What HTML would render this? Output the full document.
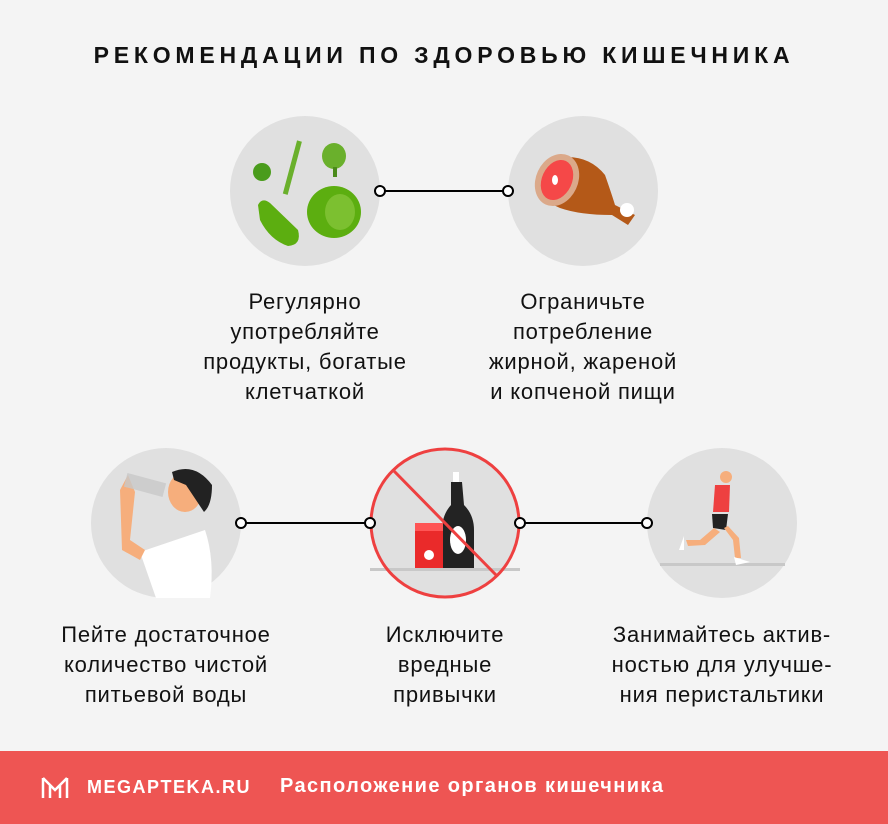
<!DOCTYPE html>
<html><head><meta charset="utf-8"><style>
body{margin:0;width:888px;height:824px;background:#f4f4f4;font-family:"Liberation Sans",sans-serif;position:relative;overflow:hidden}
.t{position:absolute;text-align:center;font-size:22px;letter-spacing:0.8px;line-height:30px;color:#111;width:300px}
.title{position:absolute;top:42px;left:0;width:888px;text-align:center;font-weight:bold;font-size:23px;letter-spacing:4.8px;color:#111}
.foot{position:absolute;left:0;top:751px;width:888px;height:73px;background:#ee5553;color:#fff}
</style></head><body>
<div class="title">РЕКОМЕНДАЦИИ ПО ЗДОРОВЬЮ КИШЕЧНИКА</div>
<svg width="888" height="750" style="position:absolute;left:0;top:0">
<g fill="#e0e0e0"><circle cx="305" cy="191" r="75"/><circle cx="583" cy="191" r="75"/><circle cx="166" cy="523" r="75"/><circle cx="445" cy="523" r="75"/><circle cx="722" cy="523" r="75"/></g>
<g><rect x="290" y="140" width="5" height="55" fill="#6ab02c" transform="rotate(15 292 167)"/>
<circle cx="262" cy="172" r="9" fill="#4a9c1c"/>
<ellipse cx="334" cy="156" rx="12" ry="13" fill="#6ab02c"/><rect x="333" y="167" width="4" height="10" fill="#4a8a1a"/>
<path d="M258 205 Q262 197 270 203 L298 230 Q302 245 288 246 Q270 240 260 220 Z" fill="#5cae10"/>
<ellipse cx="334" cy="212" rx="27" ry="26" fill="#5cae10"/><ellipse cx="340" cy="212" rx="15" ry="18" fill="#7cc030"/></g>
<path d="M548 160 Q585 150 605 175 Q612 195 615 205 L635 215 L628 225 L612 215 Q580 215 560 208 Q540 200 545 180 Z" fill="#b45918"/>
<ellipse cx="557" cy="180" rx="21" ry="27" fill="#dba98a" transform="rotate(25 557 180)"/>
<ellipse cx="557" cy="180" rx="15" ry="21" fill="#f54848" transform="rotate(25 557 180)"/>
<ellipse cx="555" cy="180" rx="3" ry="5" fill="#fff"/>
<circle cx="627" cy="210" r="7" fill="#fff"/>
<path d="M140 552 L205 530 Q215 560 210 598 L156 598 Z" fill="#fff"/>
<path d="M120 490 L128 475 L135 492 L130 540 L145 550 L140 560 L122 550 Z" fill="#f6ae7c"/>
<ellipse cx="185" cy="492" rx="17" ry="20" fill="#f6ae7c"/>
<path d="M172 472 Q195 462 212 485 Q212 505 204 512 L196 500 L186 485 L174 480 Z" fill="#222"/>
<rect x="125" y="478" width="40" height="14" fill="#c8c8c8" opacity=".8" transform="rotate(15 145 485)"/>
<rect x="453" y="472" width="6" height="10" fill="#fff"/>
<path d="M451 482 L462 482 L464 505 Q474 515 474 530 L474 570 L442 570 L442 530 Q442 515 451 505 Z" fill="#232323"/>
<ellipse cx="458" cy="540" rx="8" ry="14" fill="#fff"/>
<rect x="415" y="523" width="28" height="46" fill="#ea2a2a"/><rect x="415" y="523" width="28" height="8" fill="#f55"/>
<circle cx="429" cy="555" r="5" fill="#fff"/>
<rect x="370" y="568" width="150" height="3" fill="#c8c8c8"/>
<circle cx="445" cy="523" r="74" fill="none" stroke="#ee4040" stroke-width="3"/>
<line x1="393" y1="470" x2="497" y2="576" stroke="#ee4040" stroke-width="3"/>
<rect x="660" y="563" width="125" height="3" fill="#c8c8c8"/>
<circle cx="726" cy="477" r="6" fill="#f6ae7c"/>
<path d="M715 485 L730 485 L729 512 L713 512 Z" fill="#ee4040"/>
<path d="M712 514 L728 514 L726 530 L713 528 Z" fill="#222"/>
<path d="M714 528 L700 540 L686 540 L688 546 L705 545 L720 532 Z" fill="#f6ae7c"/>
<path d="M724 528 L733 540 L735 558 L741 558 L739 538 L728 526Z" fill="#f6ae7c"/>
<path d="M684 536 L679 550 L684 550Z" fill="#fff"/><path d="M734 557 L750 562 L736 565Z" fill="#fff"/>
<g stroke="#000" stroke-width="2" fill="#fff">
<line x1="380" y1="191" x2="508" y2="191"/><line x1="241" y1="523" x2="370" y2="523"/><line x1="519" y1="523" x2="647" y2="523"/>
<circle cx="380" cy="191" r="5"/><circle cx="508" cy="191" r="5"/>
<circle cx="241" cy="523" r="5"/><circle cx="370" cy="523" r="5"/><circle cx="520" cy="523" r="5"/><circle cx="647" cy="523" r="5"/>
</g></svg>
<div class="t" style="left:155px;top:287px">Регулярно<br>употребляйте<br>продукты, богатые<br>клетчаткой</div>
<div class="t" style="left:433px;top:287px">Ограничьте<br>потребление<br>жирной, жареной<br>и копченой пищи</div>
<div class="t" style="left:16px;top:620px">Пейте достаточное<br>количество чистой<br>питьевой воды</div>
<div class="t" style="left:295px;top:620px">Исключите<br>вредные<br>привычки</div>
<div class="t" style="left:572px;top:620px">Занимайтесь актив-<br>ностью для улучше-<br>ния перистальтики</div>
<div class="foot">
<svg width="30" height="26" style="position:absolute;left:40px;top:24px" fill="none" stroke="#fff" stroke-width="2.5"><path d="M3 3 L15 15 L27 3 M3 3 L3 23 M27 3 L27 23 M10 10 L10 23 M20 10 L20 23"/></svg>
<div style="position:absolute;left:87px;top:26px;font-weight:bold;font-size:18px;letter-spacing:1.5px">MEGAPTEKA.RU</div>
<div style="position:absolute;left:280px;top:24px;font-weight:bold;font-size:20px;letter-spacing:1.4px">Расположение органов кишечника</div>
</div>
</body></html>
